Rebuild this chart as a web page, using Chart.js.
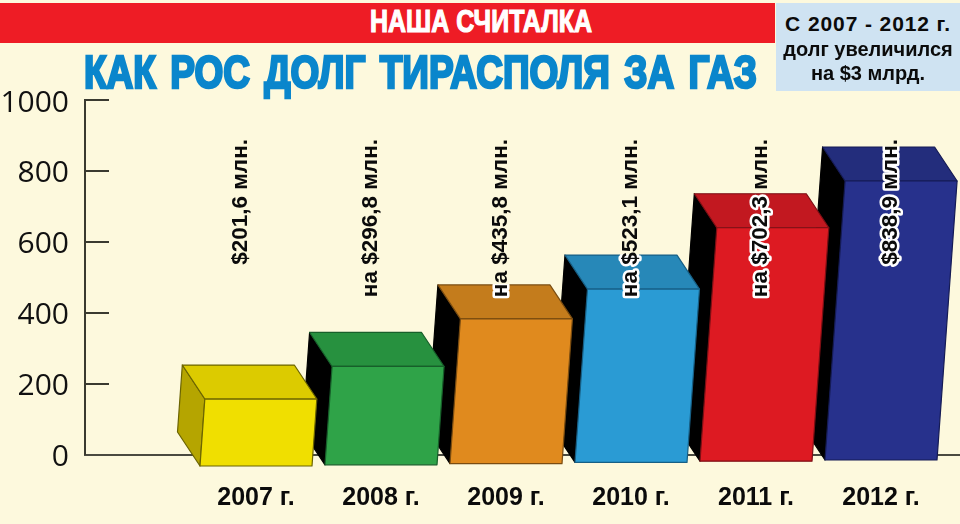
<!DOCTYPE html>
<html lang="ru">
<head>
<meta charset="utf-8">
<script src="https://cdn.jsdelivr.net/npm/chart.js@4"></script>
<style>
  html,body{margin:0;padding:0;width:960px;height:524px;overflow:hidden;background:#fdf9dd;}
  #wrap{position:relative;width:960px;height:524px;}
  canvas{position:absolute;left:0;top:0;}
  #banner{position:absolute;left:0;top:3px;width:775px;height:40px;background:#ee1c25;}
  #box{position:absolute;left:776px;top:3px;width:184px;height:88px;background:#cfe3f2;}
  .fit{position:absolute;white-space:nowrap;transform-origin:0 0;font-family:"Liberation Sans Narrow","Liberation Sans",sans-serif;font-weight:700;}
  #kicker{color:#fff;font-size:31px;line-height:31px;-webkit-text-stroke:1.2px #fff;}
  #title{color:#0a86cc;font-size:46px;line-height:46px;word-spacing:5px;-webkit-text-stroke:2.6px #0a86cc;}
  .note{position:absolute;left:776px;width:184px;text-align:center;font-family:"Liberation Sans",sans-serif;font-weight:700;color:#0b0b0b;white-space:nowrap;}
</style>
</head>
<body>
<div id="wrap">
  <canvas id="c" width="960" height="524"></canvas>
  <div id="banner"></div>
  <div id="box"></div>
  <div class="fit" id="kicker" data-x="370" data-y="6" data-w="222">НАША СЧИТАЛКА</div>
  <div class="fit" id="title" data-x="84" data-y="49" data-w="673">КАК РОС ДОЛГ ТИРАСПОЛЯ ЗА ГАЗ</div>
  <div class="note" style="top:11px;font-size:21px;line-height:26px;letter-spacing:.9px">С 2007 - 2012 г.</div>
  <div class="note" style="top:37px;font-size:20px;line-height:25px;">долг увеличился</div>
  <div class="note" style="top:61px;font-size:20px;line-height:25px;">на $3 млрд.</div>
</div>
<script>
const years = [2007, 2008, 2009, 2010, 2011, 2012];
const debts = [201.6, 296.8, 435.8, 523.1, 702.3, 838.9];
const yTicks = [0, 200, 400, 600, 800, 1000];
const valueLabels = ['$201,6 млн.', 'на $296,8 млн.', 'на $435,8 млн.', 'на $523,1 млн.', 'на $702,3 млн.', '$838,9 млн.'];
const frontColors = ['#f0df00', '#2fa348', '#e08a1e', '#2a9bd4', '#dd1a22', '#27318c'];
const topColors = ['#dccb00', '#27913f', '#c47c1c', '#2788b8', '#c21820', '#232d7c'];
const sideColors = ['#b5a500', '#000000', '#000000', '#000000', '#000000', '#000000'];
const edgeColors = ['#6b6400', '#175f2a', '#7a4c10', '#175f85', '#7c0f14', '#151b55'];

function poly(ctx, pts, fill, edge) {
  ctx.beginPath();
  pts.forEach((p, i) => i ? ctx.lineTo(p[0], p[1]) : ctx.moveTo(p[0], p[1]));
  ctx.closePath();
  ctx.fillStyle = fill;
  ctx.fill();
  ctx.strokeStyle = edge;
  ctx.lineWidth = 1.2;
  ctx.stroke();
}

const boxes = {
  id: 'boxes',
  beforeDatasetsDraw(chart) {
    const ctx = chart.ctx, x = chart.scales.x, y = chart.scales.y;
    ctx.save();
    ctx.strokeStyle = '#3a3a30';
    ctx.lineWidth = 2;
    yTicks.slice(1).forEach(t => {
      const py = Math.round(y.getPixelForValue(t));
      ctx.beginPath(); ctx.moveTo(x.left, py); ctx.lineTo(x.left + 24, py); ctx.stroke();
    });
    ctx.restore();
  },
  beforeDatasetDraw(chart) {
    const ctx = chart.ctx, x = chart.scales.x, y = chart.scales.y;
    const half = 56, dx = -22.5, dy = -34;
    ctx.save();
    ctx.lineJoin = 'round';
    for (let i = years.length - 1; i >= 0; i--) {
      const cx = x.getPixelForValue(years[i]);
      const bottom = y.getPixelForValue(0) + 11.5 - (years[i] - years[0]) * 1.2;
      const top = y.getPixelForValue(debts[i] * 0.965) + 13.5;
      const lean = (bottom - top) * 0.072;
      const bl = [cx - half, bottom], br = [cx + half, bottom];
      const tl = [cx - half + lean, top], tr = [cx + half + lean, top];
      const tlb = [tl[0] + dx, top + dy], trb = [tr[0] + dx, top + dy];
      const blb = [bl[0] + dx, bottom + dy];
      poly(ctx, [tl, tlb, blb, bl], sideColors[i], i ? '#000' : edgeColors[i]);
      poly(ctx, [tl, tlb, trb, tr], topColors[i], edgeColors[i]);
      poly(ctx, [bl, tl, tr, br], frontColors[i], edgeColors[i]);
    }
    ctx.restore();
    return false;
  },
  afterDatasetsDraw(chart) {
    const ctx = chart.ctx, x = chart.scales.x;
    ctx.save();
    ctx.font = 'bold 22.5px "Liberation Sans", sans-serif';
    ctx.textAlign = 'right';
    ctx.textBaseline = 'middle';
    ctx.lineJoin = 'round';
    valueLabels.forEach((text, i) => {
      const px = x.getPixelForValue(years[0] + (years[i] - years[0]) * 1.04) - 15;
      ctx.save();
      ctx.translate(px, 139);
      ctx.rotate(-Math.PI / 2);
      // white halo only where the text crosses a box
      ctx.globalCompositeOperation = 'source-atop';
      ctx.lineWidth = 5;
      ctx.strokeStyle = '#ffffff';
      ctx.strokeText(text, 0, 0);
      ctx.globalCompositeOperation = 'source-over';
      ctx.fillStyle = '#0b0b0b';
      ctx.fillText(text, 0, 0);
      ctx.restore();
    });
    ctx.restore();
  }
};

new Chart(document.getElementById('c'), {
  type: 'bar',
  data: {
    datasets: [{
      data: years.map((yr, i) => ({ x: yr, y: debts[i] })),
      backgroundColor: frontColors,
      barThickness: 112
    }]
  },
  plugins: [boxes],
  options: {
    responsive: false,
    animation: false,
    devicePixelRatio: 1,
    layout: { padding: { top: 100, right: 0, left: 0, bottom: 0 } },
    plugins: { legend: { display: false }, tooltip: { enabled: false }, title: { display: false } },
    scales: {
      x: {
        type: 'linear',
        offset: false,
        min: 2005.632,
        max: 2012.632,
        afterBuildTicks(s) { s.ticks = years.map(v => ({ value: v })); },
        afterFit(s) { s.height = 69.5; },
        grid: { display: false, drawTicks: false },
        border: { display: true, color: '#4a4a40', width: 2 },
        ticks: {
          autoSkip: false, maxRotation: 0, padding: 29,
          color: '#0b0b0b', font: { family: '"Liberation Sans", sans-serif', size: 25, weight: 'bold' },
          callback: v => v + ' г.'
        }
      },
      y: {
        min: 0, max: 1000,
        afterBuildTicks(s) { s.ticks = yTicks.map(v => ({ value: v })); },
        afterFit(s) { s.width = 85; },
        grid: { display: false, drawTicks: false },
        border: { display: true, color: '#3a3a30', width: 2 },
        ticks: {
          padding: 16, labelOffset: 3,
          color: '#111111', font: { family: '"Open Sans", sans-serif', size: 30 },
          callback: v => String(v)
        }
      }
    }
  }
});

document.querySelectorAll('.fit').forEach(el => {
  const w = el.getBoundingClientRect().width;
  el.style.left = el.dataset.x + 'px';
  el.style.top = el.dataset.y + 'px';
  el.style.transform = 'scaleX(' + (Number(el.dataset.w) / w) + ')';
});
</script>
</body>
</html>
